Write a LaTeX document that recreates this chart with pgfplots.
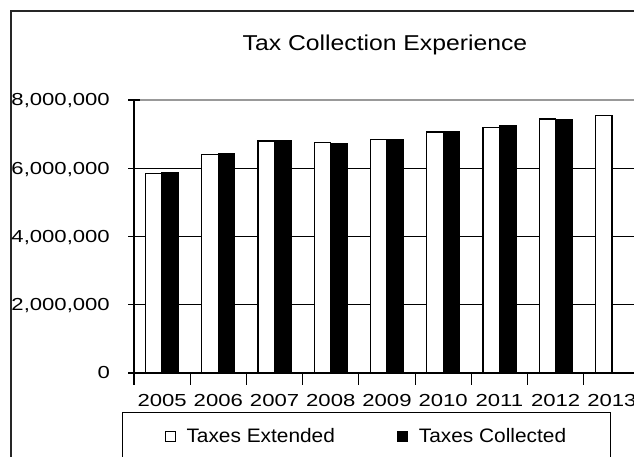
\documentclass[border=0pt]{standalone}
\usepackage{fontspec}
\setmainfont{Liberation Sans}
\newfontfamily\tickff{Liberation Sans}[FakeStretch=1.27]
\newfontfamily\titleff{Liberation Sans}[FakeStretch=1.15]
\newfontfamily\legff{Liberation Sans}[FakeStretch=1.07]
\usepackage{pgfplots}
\pgfplotsset{compat=1.18}
\begin{document}
\begin{tikzpicture}
\useasboundingbox (0pt,0pt) rectangle (634pt,457pt);
\clip (0pt,0pt) rectangle (634pt,457pt);
\draw[line width=1.6pt, black!85] (11pt,-20pt) -- (11pt,446pt) -- (660pt,446pt);
\begin{axis}[
  at={(134pt,84pt)}, anchor=south west,
  scale only axis, width=506pt, height=273pt,
  xmin=-0.5, xmax=8.5, ymin=0, ymax=8000000,
  axis x line*=bottom, axis y line*=left,
  axis line style={-, line width=1.2pt, black},
  xtick={-0.5,0.5,1.5,2.5,3.5,4.5,5.5,6.5,7.5},
  xticklabels={2005,2006,2007,2008,2009,2010,2011,2012,2013},
  xticklabel style={anchor=base, xshift=28.1pt, yshift=-22pt, inner sep=0pt},
  ytick={0,2000000,4000000,6000000},
  extra y ticks={8000000},
  extra y tick style={major grid style={gray!80, line width=1.6pt}},
  scaled y ticks=false,
  yticklabel style={anchor=base east, xshift=-18pt, yshift=-6pt, inner sep=0pt,
    /pgf/number format/.cd, fixed, 1000 sep={,}, assume math mode=true},
  tick label style={font=\tickff\fontsize{17.4}{20}\selectfont},
  major tick length=12pt, tick align=center,
  tick style={black, line width=1.1pt},
  ymajorgrids, major grid style={black, line width=1.1pt},
  ybar=0pt, bar width=16.5pt,
  title={Tax Collection Experience},
  title style={at={(0.496,1.177)}, anchor=base, inner sep=0pt, yshift=-5pt,
    font=\titleff\fontsize{21.5}{24}\selectfont},
  legend columns=2,
  legend style={at={(-0.0237,-0.1429)}, anchor=north west, draw=black,
    line width=1.2pt, inner xsep=42pt, inner ysep=14pt,
    font=\legff\fontsize{19.5}{22}\selectfont,
    /tikz/every odd column/.append style={column sep=9pt},
    /tikz/every even column/.append style={column sep=60pt}},
  legend image code/.code={\draw[#1, line width=0.9pt] (0pt,-5pt) rectangle (10pt,5pt);},
]
\addplot[fill=white, draw=black, line width=1.3pt] coordinates {
(0,5850000) (1,6400000) (2,6800000) (3,6760000) (4,6840000)
(5,7060000) (6,7190000) (7,7440000) (8,7550000)};
\addlegendentry{Taxes Extended}
\addplot[fill=black, draw=black, line width=1.3pt] coordinates {
(0,5860000) (1,6420000) (2,6810000) (3,6710000) (4,6850000)
(5,7060000) (6,7250000) (7,7410000)};
\addlegendentry{Taxes Collected}
\end{axis}
\end{tikzpicture}
\end{document}
